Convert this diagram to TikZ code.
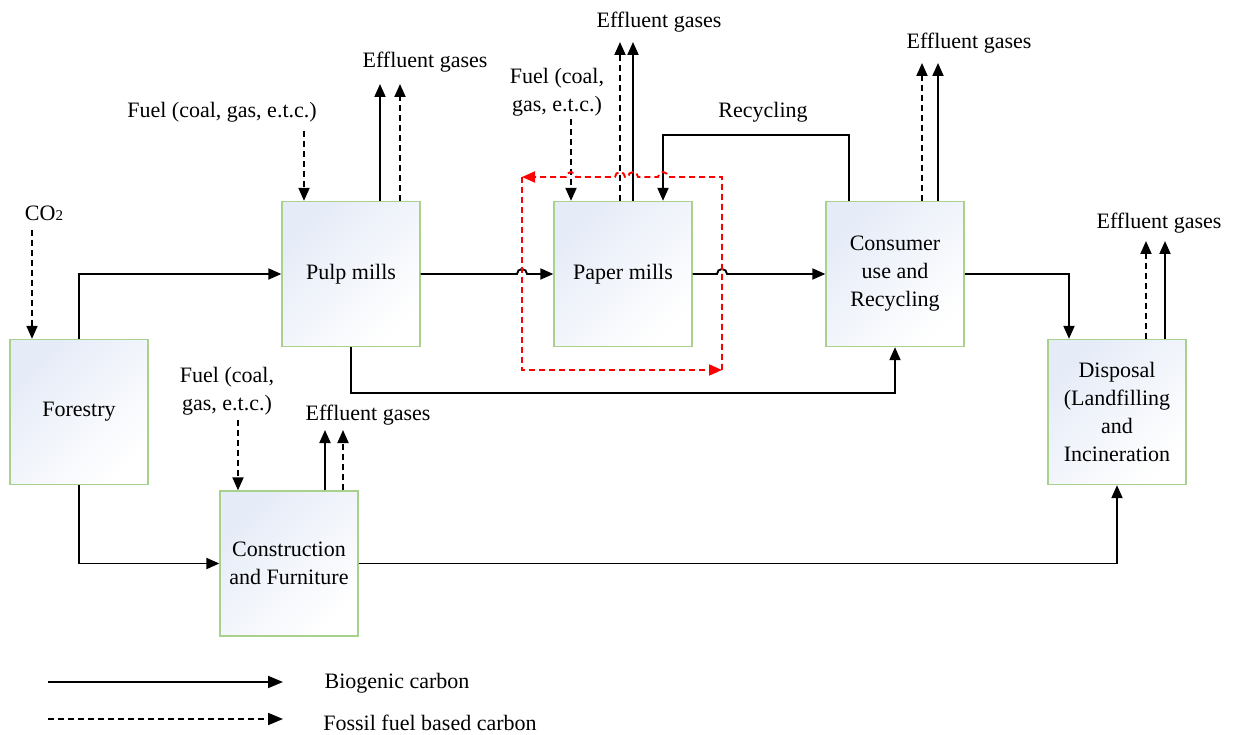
\documentclass[tikz,border=0pt]{standalone}
\usepackage{fontspec}
\setmainfont{Liberation Serif}
\usetikzlibrary{arrows.meta,calc}
\definecolor{boxedge}{RGB}{169,209,142}
\definecolor{boxtint}{RGB}{229,235,247}
\begin{document}
\begin{tikzpicture}[x=1pt,y=-1pt,
  font=\fontsize{22}{28}\selectfont,
  stage/.style={draw=boxedge, line width=1.3pt, minimum width=138pt, minimum height=145pt,
    inner sep=0pt, align=center, top color=boxtint, bottom color=white, shading angle=45},
  lbl/.style={align=center, inner sep=0pt},
  tip/.style={-{Triangle[length=13pt,width=11pt]}},
  bio/.style={line width=1.9pt, tip},
  fossil/.style={bio, dash pattern=on 6pt off 4pt},
  loop/.style={red, line width=1.9pt, dash pattern=on 6pt off 4pt, tip},
  legend/.style={line width=1.9pt, -{Triangle[length=15pt,width=12pt]}}
]
\useasboundingbox (0,0) rectangle (1235,735);

% process stages
\node[stage] (forestry)  at (79,412)   {Forestry};
\node[stage] (pulp)      at (351,274)  {Pulp mills};
\node[stage] (paper)     at (623,274)  {Paper mills};
\node[stage] (consumer)  at (895,274)  {Consumer\\use and\\Recycling};
\node[stage] (disposal)  at (1117,412) {Disposal\\(Landfilling\\and\\Incineration};
\node[stage] (construct) at (289,563.5) {Construction\\and Furniture};

% labels
\node[lbl] (co2)    at (44,213)   {CO{\fontsize{15}{15}\selectfont 2}};
\node[lbl] (pfuel)  at (222,112)  {Fuel (coal, gas, e.t.c.)};
\node[lbl] (peff)   at (425,62)   {Effluent gases};
\node[lbl] (ppfuel) at (557,92)   {Fuel (coal,\\gas, e.t.c.)};
\node[lbl] (ppeff)  at (659,22)   {Effluent gases};
\node[lbl] (recl)   at (763,112)  {Recycling};
\node[lbl] (ceff)   at (969,43)   {Effluent gases};
\node[lbl] (deff)   at (1159,223) {Effluent gases};
\node[lbl] (kfuel)  at (227,391)  {Fuel (coal,\\gas, e.t.c.)};
\node[lbl] (keff)   at (368,415)  {Effluent gases};

% free ends of input / output arrows
\coordinate (co2s) at (32,230);
\coordinate (pf)   at (304,131);
\coordinate (pe1)  at (380,84);
\coordinate (pe2)  at (400,84);
\coordinate (ppf)  at (571,119);
\coordinate (ppe1) at (620,42);
\coordinate (ppe2) at (633,42);
\coordinate (ce1)  at (922,63);
\coordinate (ce2)  at (938,63);
\coordinate (de1)  at (1146,241);
\coordinate (de2)  at (1165,241);
\coordinate (kf)   at (238,420);
\coordinate (ke1)  at (325,430);
\coordinate (ke2)  at (343,430);
\coordinate (recyc) at ([xshift=40pt]paper.north);

% paper mill boundary
\coordinate (rTL) at (522,177);
\coordinate (rBR) at (722,370);

% biogenic flows
\draw[bio] (forestry.north) |- (pulp.west);
\draw[bio] (forestry.south) |- (construct.west);
\draw[bio] (pulp.east) -- ($(rTL |- pulp.east)+(-5,0)$)
  arc[start angle=180,end angle=0,radius=5pt] -- (paper.west);
\draw[bio] (paper.east) -- ($(rBR |- paper.east)+(-5,0)$)
  arc[start angle=180,end angle=0,radius=5pt] -- (consumer.west);
\draw[bio] (pulp.south) -- ++(0,46) -| (consumer.south);
\draw[bio] ([xshift=-46pt]consumer.north) -- ++(0,-66) -| (recyc);
\draw[bio] (consumer.east) -| ([xshift=-48pt]disposal.north);
\draw[bio] (construct.east) -| (disposal.south);

% fossil inputs
\draw[fossil] (co2s) -- (co2s |- forestry.north);
\draw[fossil] (pf) -- (pf |- pulp.north);
\draw[fossil] (ppf) -- (ppf |- paper.north);
\draw[fossil] (kf) -- (kf |- construct.north);

% effluent gases
\draw[bio]    (pe1 |- pulp.north) -- (pe1);
\draw[fossil] (pe2 |- pulp.north) -- (pe2);
\draw[fossil] (ppe1 |- paper.north) -- (ppe1);
\draw[bio]    (ppe2 |- paper.north) -- (ppe2);
\draw[fossil] (ce1 |- consumer.north) -- (ce1);
\draw[bio]    (ce2 |- consumer.north) -- (ce2);
\draw[fossil] (de1 |- disposal.north) -- (de1);
\draw[bio]    (de2 |- disposal.north) -- (de2);
\draw[bio]    (ke1 |- construct.north) -- (ke1);
\draw[fossil] (ke2 |- construct.north) -- (ke2);

% red loop round the paper mill
\draw[loop] (rBR) -- (rBR |- rTL) -- ($(recyc |- rTL)+(5,0)$)
  arc[start angle=0,end angle=180,radius=5pt] -- ($(ppe2 |- rTL)+(5,0)$)
  arc[start angle=0,end angle=180,radius=5pt] -- ($(ppe1 |- rTL)+(5,0)$)
  arc[start angle=0,end angle=180,radius=5pt] -- ($(ppf |- rTL)+(5,0)$)
  arc[start angle=0,end angle=180,radius=5pt] -- (rTL);
\draw[loop] (rTL) -- (rTL |- rBR) -- (rBR);

% legend
\coordinate (lg1a) at (48,682);
\coordinate (lg1b) at (283,682);
\coordinate (lg2a) at (48,719);
\coordinate (lg2b) at (283,719);
\draw[legend] (lg1a) -- (lg1b);
\draw[legend, dash pattern=on 6pt off 4pt] (lg2a) -- (lg2b);
\node[lbl] (lgt1) at (397,683) {Biogenic carbon};
\node[lbl] (lgt2) at (430,723) {Fossil fuel based carbon};
\end{tikzpicture}
\end{document}
